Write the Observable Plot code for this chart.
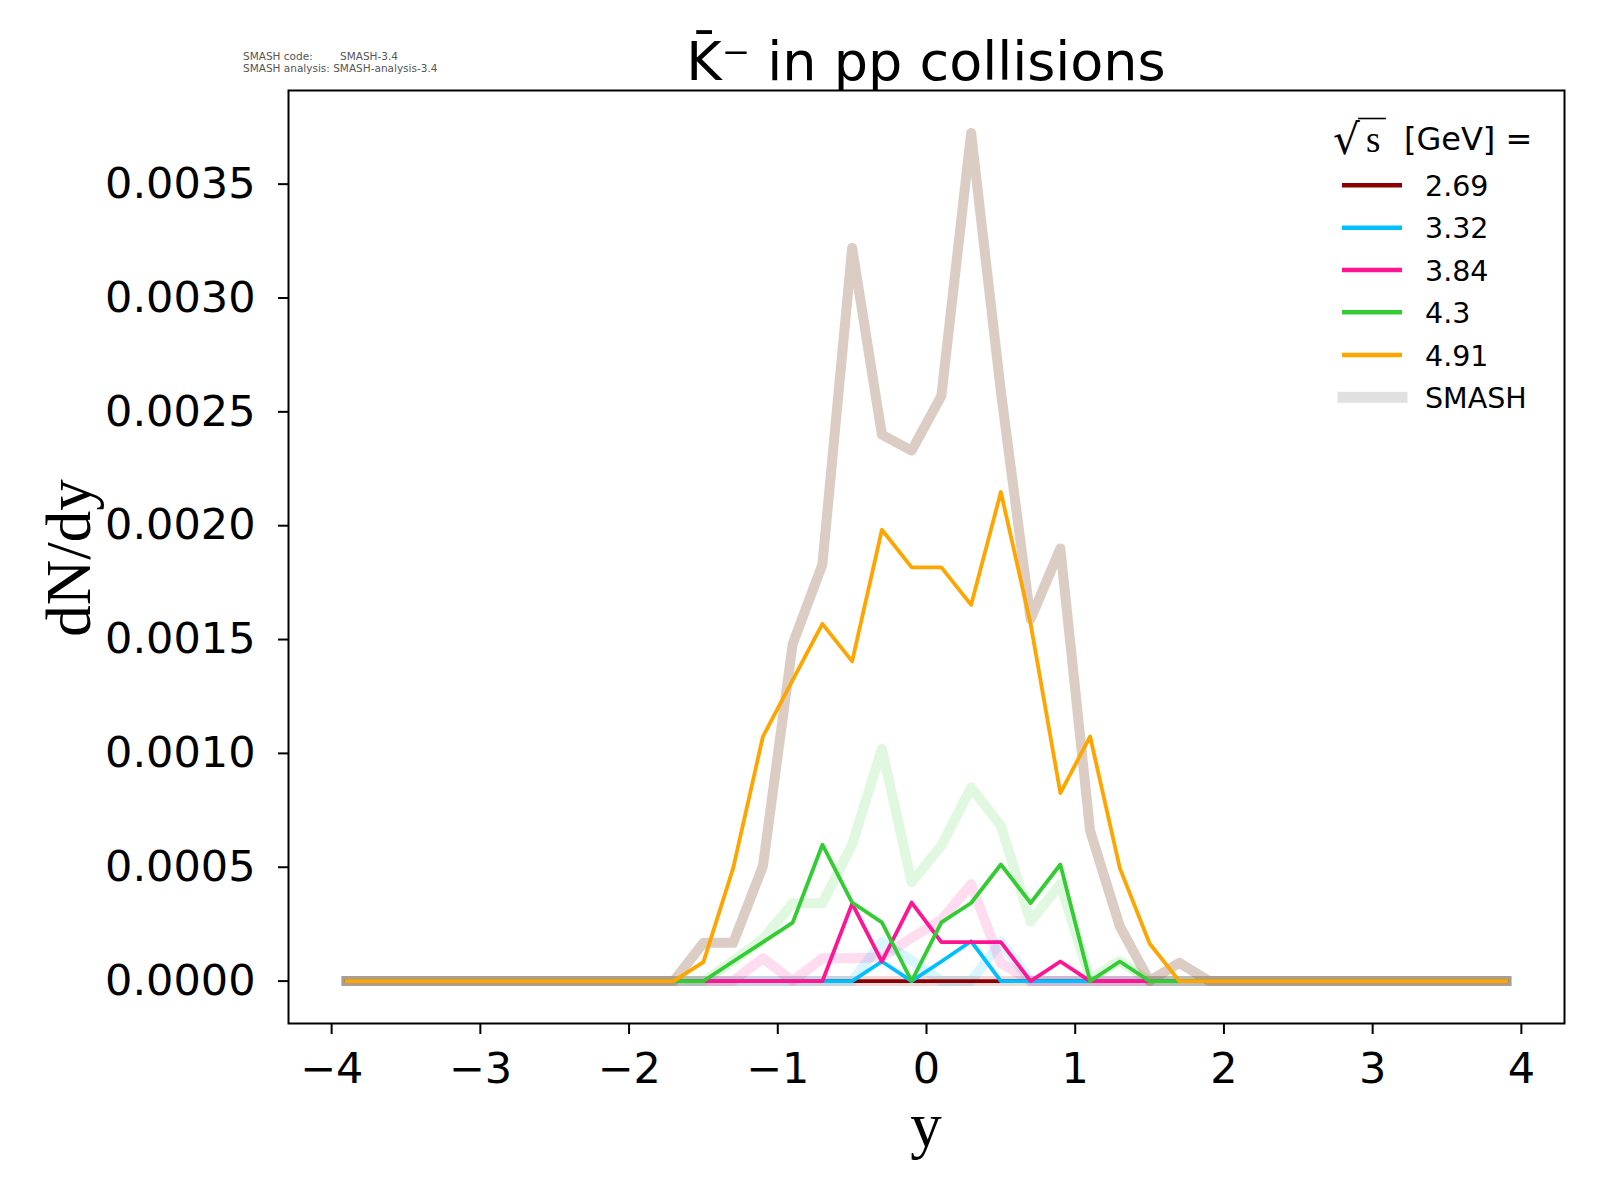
<!DOCTYPE html>
<html><head><meta charset="utf-8">
<script src="https://cdn.jsdelivr.net/npm/d3@7"></script>
<script src="https://cdn.jsdelivr.net/npm/@observablehq/plot@0.6"></script>
<style>
body{margin:0;background:#fff;}
#wrap{position:relative;width:1600px;height:1200px;}
</style></head><body><div id="wrap"></div>
<script>
// rapidity bin centres
const rapidity = [-3.9,-3.7,-3.5,-3.3,-3.1,-2.9,-2.7,-2.5,-2.3,-2.1,-1.9,-1.7,-1.5,-1.3,-1.1,-0.9,-0.7,-0.5,-0.3,-0.1,
                   0.1,0.3,0.5,0.7,0.9,1.1,1.3,1.5,1.7,1.9,2.1,2.3,2.5,2.7,2.9,3.1,3.3,3.5,3.7,3.9];
const energies = ["2.69","3.32","3.84","4.3","4.91"];
const colors = ["#8b0000","#00bfff","#ff1493","#32cd32","#ffa500"];
// thin lines
const dNdy_269 = [0,0,0,0,0,0,0,0,0,0, 0,0,0,0,0,0,0,0,0,0, 0,0,0,0,0,0,0,0,0,0, 0,0,0,0,0,0,0,0,0,0];
const dNdy_332 = [0,0,0,0,0,0,0,0,0,0, 0,0,0,0,0,0,0,0,0.000086,0, 0.000086,0.000175,0,0,0,0,0,0,0,0, 0,0,0,0,0,0,0,0,0,0];
const dNdy_384 = [0,0,0,0,0,0,0,0,0,0, 0,0,0,0,0,0,0,0.000340,0.000086,0.000345, 0.000171,0.000171,0.000171,0,0.000086,0,0,0,0,0, 0,0,0,0,0,0,0,0,0,0];
const dNdy_43  = [0,0,0,0,0,0,0,0,0,0, 0,0,0,0.000086,0.000171,0.000257,0.000599,0.000345,0.000258,0, 0.000258,0.000343,0.000512,0.000343,0.000512,0,0.000086,0,0,0, 0,0,0,0,0,0,0,0,0,0];
const dNdy_491 = [0,0,0,0,0,0,0,0,0,0, 0,0,0.000083,0.000496,0.001074,0.001322,0.001569,0.001404,0.001982,0.001817, 0.001817,0.001652,0.002148,0.001569,0.000826,0.001074,0.000496,0.000165,0,0, 0,0,0,0,0,0,0,0,0,0];
// thick SMASH lines
const smash_269 = [0,0,0,0,0,0,0,0,0,0, 0,0,0,0,0,0,0,0,0,0, 0,0,0,0,0,0,0,0,0,0, 0,0,0,0,0,0,0,0,0,0];
const smash_332 = [0,0,0,0,0,0,0,0,0,0, 0,0,0,0,0,0,0,0,0.000172,0.000090, 0,0,0.000172,0,0,0,0,0,0,0, 0,0,0,0,0,0,0,0,0,0];
const smash_384 = [0,0,0,0,0,0,0,0,0,0, 0,0,0,0,0.000100,0,0.000100,0.000100,0.000105,0.000190, 0.000268,0.000425,0.000080,0,0,0,0,0,0,0, 0,0,0,0,0,0,0,0,0,0];
const smash_43  = [0,0,0,0,0,0,0,0,0,0, 0,0,0,0.000088,0.000185,0.000342,0.000342,0.000600,0.001020,0.000435, 0.000595,0.000850,0.000682,0.000262,0.000425,0.000010,0.000088,0,0,0, 0,0,0,0,0,0,0,0,0,0];
const smash_491 = [0,0,0,0,0,0,0,0,0,0, 0,0,0.000168,0.000168,0.000505,0.001480,0.001830,0.003220,0.002400,0.002330, 0.002570,0.003725,0.002590,0.001590,0.001900,0.000660,0.000240,0,0.000080,0, 0,0,0,0,0,0,0,0,0,0];

const thinSeries = [dNdy_269,dNdy_332,dNdy_384,dNdy_43,dNdy_491];
const thickSeries = [smash_269,smash_332,smash_384,smash_43,smash_491];
const thickColors = ["#8b0000","#00bfff","#ff1493","#32cd32","#8b5a3c"];
const thickOpacity = [0.15,0.15,0.15,0.15,0.3];

const toRows = arr => rapidity.map((y,i)=>({y, v: arr[i]}));
const all = thinSeries.concat(thickSeries).flat();
const vmax = d3.max(all), vmin = 0;
const ypad = 0.05*(vmax-vmin);
const xpad = 0.05*(rapidity[rapidity.length-1]-rapidity[0]);

const marks = [];
thickSeries.forEach((s,i)=>marks.push(Plot.line(toRows(s),{x:"y",y:"v",stroke:thickColors[i],strokeOpacity:thickOpacity[i],strokeWidth:10,strokeLinecap:"square",strokeLinejoin:"round"})));
thinSeries.forEach((s,i)=>marks.push(Plot.line(toRows(s),{x:"y",y:"v",stroke:colors[i],strokeWidth:3.8,strokeLinecap:"square",strokeLinejoin:"round"})));

const chart = Plot.plot({
  width:1600, height:1200,
  marginLeft:288, marginRight:36, marginTop:90, marginBottom:177,
  x:{domain:[rapidity[0]-xpad, rapidity[rapidity.length-1]+xpad]},
  y:{domain:[vmin-ypad, vmax+ypad]},
  style:{fontFamily:"DejaVu Sans", background:"white", color:"black"},
  marks:[
    ...marks,
    Plot.frame({stroke:"black", strokeWidth:2}),
    Plot.axisX({ticks:[-4,-3,-2,-1,0,1,2,3,4], tickSize:11, tickPadding:18, fontSize:43, strokeWidth:2, label:null}),
    Plot.axisY({ticks:[0,0.0005,0.001,0.0015,0.002,0.0025,0.003,0.0035], tickFormat:d3.format(".4f"), tickSize:10, tickPadding:23, fontSize:43, strokeWidth:2, label:null})
  ]
});
document.getElementById("wrap").appendChild(chart);

const svg = d3.select(chart);
// title
svg.append("text").attr("x",926).attr("y",80).attr("text-anchor","middle")
  .style("font-family","DejaVu Sans").style("font-size","54px").text("K\u0304\u207B in pp collisions");
// axis labels
svg.append("text").attr("x",926).attr("y",1146).attr("text-anchor","middle")
  .style("font-family","Liberation Serif").style("font-size","63px").text("y");
svg.append("text").attr("transform","translate(90,558) rotate(-90)").attr("text-anchor","middle")
  .style("font-family","Liberation Serif").style("font-size","63px").text("dN/dy");
// version text
const vt = svg.append("g").attr("text-anchor","start").style("font-family","DejaVu Sans").style("font-size","10.5px").attr("fill","#555");
vt.append("text").attr("x",243).attr("y",60).text("SMASH code:");
vt.append("text").attr("x",340).attr("y",60).text("SMASH-3.4");
vt.append("text").attr("x",243).attr("y",72).text("SMASH analysis: SMASH-analysis-3.4");
// legend
const lg = svg.append("g").attr("text-anchor","start").style("font-family","DejaVu Sans").style("font-size","28.5px");
lg.append("text").attr("x",1333).attr("y",154).style("font-family","DejaVu Serif").style("font-size","42px").text("\u221A");
lg.append("text").attr("x",1366).attr("y",152).style("font-family","Liberation Serif").style("font-size","37px").text("s");
lg.append("line").attr("x1",1358).attr("x2",1386).attr("y1",118.5).attr("y2",118.5).attr("stroke","black").attr("stroke-width",1.6);
lg.append("text").attr("x",1404).attr("y",149.5).style("font-size","32px").text("[GeV] =");
const rowY = [185.3,227.7,270,312.3,355,397.3];
energies.forEach((e,i)=>{
  lg.append("line").attr("x1",1342).attr("x2",1402).attr("y1",rowY[i]).attr("y2",rowY[i]).attr("stroke",colors[i]).attr("stroke-width",4.5);
  lg.append("text").attr("x",1425).attr("y",rowY[i]+10.5).text(e);
});
lg.append("line").attr("x1",1343).attr("x2",1402).attr("y1",rowY[5]).attr("y2",rowY[5]).attr("stroke","#e0e0e0").attr("stroke-width",11).attr("stroke-linecap","square");
lg.append("text").attr("x",1425).attr("y",rowY[5]+10.5).text("SMASH");
</script>
</body></html>
